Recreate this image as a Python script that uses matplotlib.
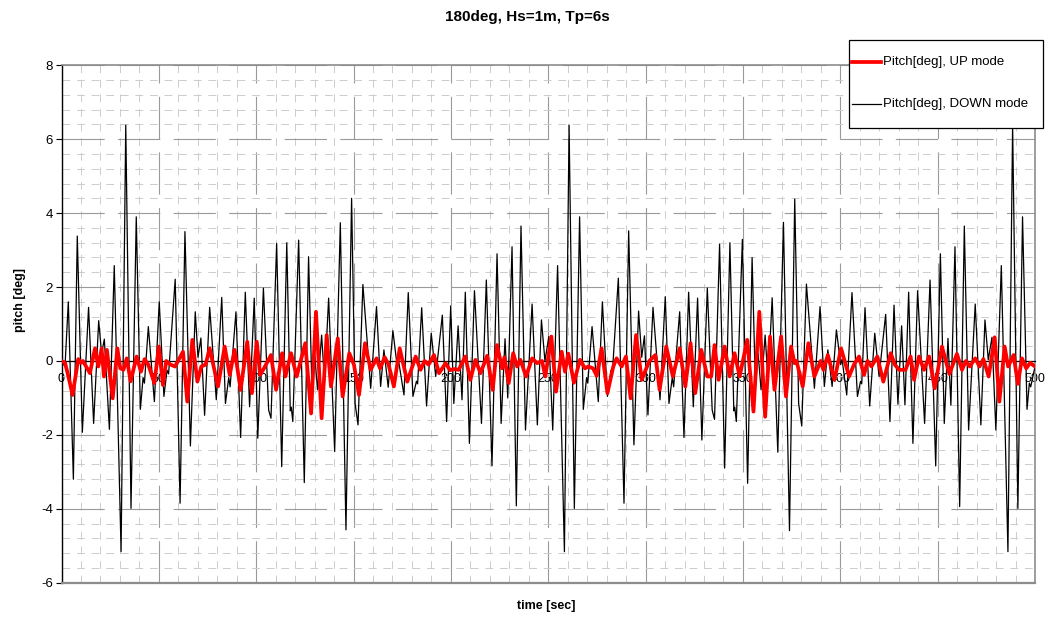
import numpy as np
import matplotlib.pyplot as plt
from matplotlib.lines import Line2D
from matplotlib.patches import Rectangle
from matplotlib.ticker import MultipleLocator

plt.rcParams['font.family'] = ['Liberation Sans', 'DejaVu Sans']

# pitch, DOWN mode (turning points)
t_down = [0.0, 1.8, 3.5, 6.1, 8.1, 10.7, 13.9, 16.5, 19.1, 20.6, 22.0, 24.6, 27.1, 30.6, 33.0, 35.7, 38.4, 40.5, 41.9, 42.6, 44.6, 47.7, 50.2,
          52.6, 54.2, 55.0, 58.4, 60.9, 63.4, 66.2, 68.7, 70.1, 71.6, 73.5, 76.1, 79.5, 82.3, 84.2, 85.9, 86.6, 89.6, 92.0, 94.4, 96.6, 99.0,
          100.8, 103.7, 106.4, 107.6, 110.5, 113.1, 115.7, 117.5, 118.0, 118.8, 121.8, 124.7, 126.9, 128.6, 130.0, 131.5, 133.6, 135.1, 137.2, 140.3, 143.2, 146.1, 149.0,
          150.8, 152.3, 154.8, 158.8, 161.8, 163.9, 165.6, 167.8, 170.2, 172.3, 173.0, 175.9, 178.1, 180.5, 182.3, 182.9, 185.0, 187.5, 189.9, 192.2, 195.6, 197.8, 199.9,
          201.5, 203.7, 205.7, 207.4, 209.5, 212.1, 215.7, 218.2, 221.1, 223.7, 225.8, 227.8, 229.2, 231.4, 233.6, 236.0, 238.3, 241.7, 244.4, 246.5, 248.3, 250.3,
          252.3, 254.8, 258.3, 260.7, 263.4, 266.1, 268.0, 269.7, 270.3, 272.5, 275.7, 277.8, 280.4, 282.2, 282.9, 286.0, 288.9, 291.3, 294.0, 296.4, 298.0, 299.4,
          301.2, 303.8, 307.4, 310.1, 312.0, 313.7, 314.4, 317.5, 319.7, 322.1, 324.5, 326.7, 328.9, 331.7, 334.2, 335.4, 338.0, 340.6, 343.3, 345.3, 345.8, 346.6, 349.7,
          352.4, 354.7, 356.4, 357.8, 359.3, 361.4, 362.9, 365.0, 367.9, 370.8, 373.9, 376.6, 378.6, 380.2, 382.6, 386.7, 389.6, 391.8, 393.6, 395.8, 398.0, 400.2, 400.9,
          403.3, 406.0, 408.8, 410.4, 411.0, 412.7, 415.1, 417.7, 419.9, 423.3, 425.5, 427.6, 429.6, 431.5, 433.2, 435.1, 437.3, 439.7, 443.3, 446.1, 449.0, 451.4,
          453.4, 455.3, 456.8, 458.9, 461.3, 463.7, 465.9, 469.3, 472.2, 474.3, 476.0, 477.9, 479.9, 482.7, 486.1, 488.5, 491.2, 493.6, 495.9, 497.1, 497.8, 500.0]
pitch_down = [0.0, -0.15, 1.6, -3.2, 3.38, -1.93, 1.45, -1.69, 1.09, 0.2, 0.59, -1.85, 2.58, -5.16, 6.38, -3.99, 3.9, -1.31, -0.45, -0.6, 0.93, -1.1, 1.6,
              -0.96, -0.25, -0.35, 2.21, -3.85, 3.5, -2.3, 1.33, 0.1, 0.62, -1.47, 1.45, -1.05, 1.72, -1.15, -0.45, -0.7, 1.33, -2.07, 1.86, -1.24, 1.7,
              -2.09, 1.97, -1.33, -1.55, 3.18, -2.86, 3.2, -1.35, -1.25, -1.64, 3.27, -3.29, 2.82, -0.7, 0.2, -0.78, 0.7, -0.56, 1.7, -2.45, 3.74, -4.57, 4.4,
              -1.15, -1.73, 2.07, -0.74, 1.47, -0.69, 0.3, -0.71, 0.82, -0.1, 0.05, -0.92, 1.85, -0.96, -0.55, -0.62, 1.44, -1.22, 0.75, -0.42, 1.24, -1.64, 1.49,
              -1.15, 0.95, -1.05, 1.86, -2.23, 1.9, -1.69, 2.19, -2.84, 2.9, -1.69, 0.6, -1.0, 3.09, -3.92, 3.65, -1.87, 1.54, -1.73, 1.11, 0.0, 0.66,
              -1.87, 2.58, -5.16, 6.38, -3.99, 3.9, -1.31, -0.45, -0.6, 0.93, -1.1, 1.6, -0.96, -0.25, -0.35, 2.24, -3.85, 3.52, -2.27, 1.35, 0.1, 0.68,
              -1.46, 1.45, -1.05, 1.74, -1.15, -0.45, -0.7, 1.33, -2.07, 1.86, -1.24, 1.7, -2.14, 1.97, -1.33, -1.58, 3.16, -2.9, 3.2, -1.35, -1.25, -1.64, 3.29,
              -3.31, 2.8, -0.69, 0.2, -0.78, 0.7, -0.56, 1.71, -2.47, 3.75, -4.59, 4.38, -1.15, -1.76, 2.08, -0.74, 1.47, -0.69, 0.3, -0.69, 0.84, -0.1, 0.05,
              -0.92, 1.85, -0.96, -0.55, -0.62, 1.44, -1.22, 0.75, -0.42, 1.26, -1.64, 1.51, -1.17, 0.95, -1.19, 1.86, -2.23, 1.9, -1.69, 2.19, -2.84, 2.9,
              -1.69, 0.61, -1.2, 3.09, -3.94, 3.65, -1.87, 1.54, -1.73, 1.11, 0.03, 0.64, -1.87, 2.58, -5.16, 6.38, -3.99, 3.9, -1.31, -0.6, -0.7, -0.15]

# pitch, UP mode
t_up = [0.0, 1.8, 3.0, 5.7, 8.6, 9.9, 11.0, 14.6, 17.2, 18.9, 20.6, 21.8, 23.3, 26.3, 28.7, 30.2, 31.8, 33.5, 35.5, 38.6, 40.8, 42.7, 44.6, 47.7, 50.0,
        52.1, 53.8, 56.0, 58.3, 62.4, 64.6, 67.2, 69.8, 71.8, 74.0, 76.1, 80.4, 83.8, 86.4, 88.9, 92.0, 95.4, 97.8, 100.3,
        102.0, 104.0, 107.6, 110.2, 113.3, 115.0, 117.9, 120.8, 125.2, 128.2, 130.7, 133.6, 136.2, 138.4, 141.9, 144.4, 147.8, 150.2,
        152.8, 155.9, 158.8, 161.8, 163.6, 166.0, 168.0, 170.7, 173.7, 177.6, 181.9, 184.4, 186.5, 188.5, 191.3, 193.9, 197.3, 199.5,
        201.5, 204.0, 207.4, 210.0, 212.6, 215.2, 218.6, 221.5, 223.7, 226.3, 227.5, 229.7, 232.0, 234.0, 235.7, 238.6, 241.7, 244.3, 246.8, 248.5, 251.6,
        254.0, 256.9, 258.6, 260.3, 263.2, 266.3, 268.9, 270.6, 273.0, 274.9, 277.4, 280.4, 283.4, 285.1, 287.7, 289.9, 292.3, 295.1, 298.0, 301.9,
        305.0, 307.2, 310.6, 314.0, 317.5, 320.4, 323.1, 325.5, 328.6, 331.7, 333.7, 335.4, 337.5, 340.6, 343.2, 345.7, 348.3, 352.2,
        355.4, 358.4, 361.4, 363.9, 366.2, 369.6, 372.1, 374.7, 376.5, 377.5, 380.7, 383.6, 386.7, 389.9, 391.3, 393.6, 397.0, 400.4,
        404.5, 407.0, 409.6, 412.2, 414.0, 416.0, 419.0, 422.1, 425.9, 428.0, 430.2, 433.5, 436.1, 437.9, 440.4, 443.0, 445.6, 448.5, 452.2,
        456.0, 459.9, 462.5, 464.5, 466.5, 469.3, 471.5, 473.5, 476.2, 479.3, 481.7, 484.4, 486.2, 489.0, 491.2, 493.3, 495.5, 497.5, 500.0]
pitch_up = [0.0, -0.05, -0.3, -0.92, 0.05, -0.05, 0.0, -0.33, 0.34, -0.15, 0.34, -0.42, 0.3, -1.01, 0.34, -0.2, -0.24, 0.07, -0.55, 0.12, -0.29, 0.05, -0.1, -0.6, 0.39,
            -0.65, 0.0, -0.1, -0.15, 0.25, -1.1, 0.57, -0.56, -0.15, -0.1, 0.34, -0.69, 0.39, -0.38, 0.3, -0.78, 0.52, -0.87, 0.52,
            -0.38, -0.2, 0.16, -0.78, 0.21, -0.42, 0.21, -0.42, 0.48, -1.42, 1.33, -1.55, 0.7, -0.69, 0.61, -0.96, 0.21, -0.1,
            -0.92, 0.48, -0.24, 0.07, -0.2, 0.1, -0.1, -0.69, 0.34, -0.56, 0.12, -0.24, 0.0, -0.1, 0.16, -0.33, -0.06, -0.25,
            -0.22, -0.24, 0.12, -0.51, 0.03, -0.33, 0.14, -0.78, 0.43, -0.2, 0.1, -0.6, 0.21, -0.15, 0.03, -0.42, 0.07, -0.06, 0.0, -0.42, 0.66,
            -0.83, 0.25, -0.29, 0.2, -0.59, 0.03, -0.2, -0.15, -0.2, -0.4, 0.34, -0.87, -0.15, 0.07, -0.15, 0.12, -1.01, 0.7, -0.51, 0.0,
            0.16, -0.78, 0.39, -0.42, 0.34, -0.69, 0.48, -0.87, 0.3, -0.42, -0.42, 0.43, -0.51, 0.39, -0.42, 0.21, -0.42, 0.57,
            -1.37, 1.33, -1.51, 0.66, -0.78, 0.66, -0.96, 0.39, -0.06, 0.0, -0.69, 0.48, -0.42, 0.0, -0.24, 0.16, -0.51, 0.34,
            -0.42, -0.1, 0.12, -0.38, 0.0, -0.15, 0.12, -0.56, 0.21, -0.1, -0.24, -0.24, 0.12, -0.51, 0.12, -0.24, 0.12, -0.74, 0.39,
            -0.35, 0.19, -0.24, 0.0, -0.15, 0.07, -0.15, 0.05, -0.42, 0.64, -1.1, 0.39, -0.15, 0.16, -0.62, 0.07, -0.2, -0.05, -0.15]

W, H = 1049, 620
fig = plt.figure(figsize=(W / 100, H / 100), dpi=100)
ax = fig.add_axes([61.5 / W, 1 - 582.7 / H, (1035 - 61.5) / W, (582.7 - 65.3) / H])

ax.plot(t_down, pitch_down, color='black', lw=0.9, zorder=3, solid_joinstyle='round')
ax.plot(t_up, pitch_up, color='#ff0000', lw=2.7, zorder=4, solid_joinstyle='round')

ax.set_xlim(0, 500)
ax.set_ylim(-6, 8)
ax.xaxis.set_major_locator(MultipleLocator(50))
ax.xaxis.set_minor_locator(MultipleLocator(10))
ax.yaxis.set_major_locator(MultipleLocator(2))
ax.yaxis.set_minor_locator(MultipleLocator(0.4))

ax.set_axisbelow(True)
ax.grid(which='major', color='#9a9a9a', lw=0.8, ls=(0, (38, 12)))
ax.grid(which='minor', color='#cccccc', lw=0.7, ls=(0, (8, 7)))

ax.spines['bottom'].set_position(('data', 0))
ax.spines['bottom'].set_color('black')
ax.spines['bottom'].set_linewidth(0.9)
ax.spines['left'].set_color('black')
ax.spines['left'].set_linewidth(1.0)
for s in ['top', 'right']:
    ax.spines[s].set_color('#8c8c8c')
    ax.spines[s].set_linewidth(1.2)
ax.axhline(-6, color='#8c8c8c', lw=1.6, clip_on=False, zorder=5)

ax.tick_params(axis='x', which='both', length=0, pad=9, labelsize=9)
ax.tick_params(axis='y', which='major', direction='out', length=4, width=0.8, pad=2, labelsize=9.5)
ax.tick_params(axis='y', which='minor', length=0)
ax.set_yticks(np.arange(-6, 9, 2))
ax.set_yticklabels([str(v) for v in range(-6, 9, 2)])

fig.text(527 / W, 1 - 17 / H, '180deg, Hs=1m, Tp=6s', ha='center', va='center',
         fontsize=11, fontweight='bold')
fig.text(546 / W, 1 - 606 / H, 'time [sec]', ha='center', va='center',
         fontsize=9, fontweight='bold')
fig.text(20 / W, 1 - 300 / H, 'pitch [deg]', ha='center', va='center',
         rotation=90, fontsize=9, fontweight='bold')

# legend box
fig.patches.append(Rectangle((849 / W, 1 - 128 / H), (1043 - 849) / W, (128 - 40) / H,
                             transform=fig.transFigure, facecolor='white',
                             edgecolor='black', lw=0.9, zorder=10))
fig.lines.append(Line2D([852 / W, 881 / W], [1 - 62 / H] * 2, transform=fig.transFigure,
                        color='#ff0000', lw=2.7, zorder=11))
fig.lines.append(Line2D([852 / W, 881 / W], [1 - 104 / H] * 2, transform=fig.transFigure,
                        color='black', lw=0.9, zorder=11))
fig.text(883 / W, 1 - 62 / H, 'Pitch[deg], UP mode', ha='left', va='center',
         fontsize=9.5, zorder=12)
fig.text(883 / W, 1 - 104 / H, 'Pitch[deg], DOWN mode', ha='left', va='center',
         fontsize=9.5, zorder=12)

fig.savefig('out.png', dpi=100)
